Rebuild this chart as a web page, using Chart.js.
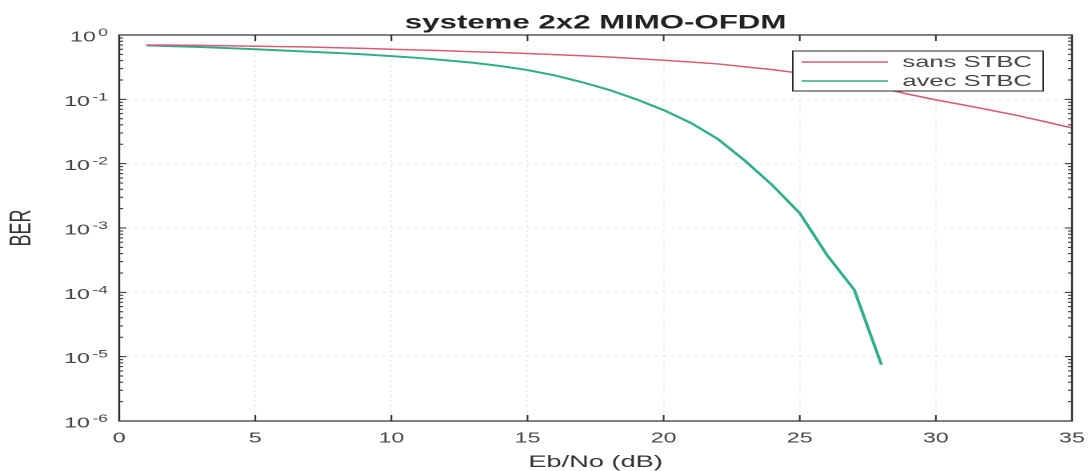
<!DOCTYPE html>
<html>
<head>
<meta charset="utf-8">
<title>systeme 2x2 MIMO-OFDM</title>
<script src="https://cdn.jsdelivr.net/npm/chart.js@4/dist/chart.umd.min.js"></script>
<style>
  html, body { margin: 0; padding: 0; background: #fff; overflow: hidden; }
  /* the figure is laid out narrow and widened, like the exported plot */
  #stage { width: 682px; height: 471px; transform: scaleX(1.6); transform-origin: 0 0; }
</style>
</head>
<body>
<div id="stage"><canvas id="ber" width="682" height="471"></canvas></div>
<script>
"use strict";

// Eb/No in dB
const EBNO_DB = [1, 2, 3, 4, 5, 6, 7, 8, 9, 10, 11, 12, 13, 14, 15, 16, 17, 18,
                 19, 20, 21, 22, 23, 24, 25, 26, 27, 28, 29, 30, 31, 32, 33, 34, 35];

// BER without STBC (1..35 dB)
const BER_SANS_STBC = [0.70, 0.695, 0.69, 0.68, 0.67, 0.66, 0.65, 0.635, 0.62, 0.60,
                       0.585, 0.57, 0.55, 0.535, 0.515, 0.495, 0.475, 0.455, 0.43, 0.405,
                       0.38, 0.355, 0.32, 0.29, 0.255, 0.22, 0.185, 0.15, 0.12, 0.098,
                       0.082, 0.068, 0.056, 0.045, 0.036];

// BER with Alamouti STBC (1..28 dB, no errors counted after that)
const BER_AVEC_STBC = [0.69, 0.67, 0.65, 0.625, 0.60, 0.575, 0.55, 0.525, 0.50, 0.47,
                       0.44, 0.405, 0.37, 0.33, 0.285, 0.235, 0.185, 0.14, 0.10, 0.068,
                       0.043, 0.024, 0.011, 0.0046, 0.0017, 3.8e-4, 1.1e-4, 7.5e-6];

const X_TICKS = [0, 5, 10, 15, 20, 25, 30, 35];
const Y_DECADES = [1, 1e-1, 1e-2, 1e-3, 1e-4, 1e-5, 1e-6];

const RED = "#d65c76";
const GREEN = "#30ad8b";
const FRAME = "#2b2b2b";
const LABEL = "#444";
const GRID = "rgba(120, 120, 120, 0.14)";
const FONT = "'Liberation Sans', Arial, sans-serif";

function points(xs, ys) {
  return ys.map((y, i) => ({ x: xs[i], y }));
}

// box, inward ticks (with log minor ticks) and superscript decade labels
const axesFrame = {
  id: "axesFrame",
  afterDraw(chart) {
    const { ctx, chartArea: a, scales: { x, y } } = chart;
    ctx.save();
    ctx.strokeStyle = FRAME;
    ctx.lineWidth = 1.2;
    ctx.strokeRect(a.left, a.top, a.right - a.left, a.bottom - a.top);

    ctx.beginPath();
    X_TICKS.forEach(v => {
      const px = x.getPixelForValue(v);
      ctx.moveTo(px, a.bottom); ctx.lineTo(px, a.bottom - 6);
      ctx.moveTo(px, a.top);    ctx.lineTo(px, a.top + 6);
    });
    Y_DECADES.forEach(v => {
      const py = y.getPixelForValue(v);
      ctx.moveTo(a.left, py);  ctx.lineTo(a.left + 4.5, py);
      ctx.moveTo(a.right, py); ctx.lineTo(a.right - 4.5, py);
      if (v < 1) {
        for (let m = 2; m <= 9; m++) {
          const pm = y.getPixelForValue(v * m);
          ctx.moveTo(a.left, pm);  ctx.lineTo(a.left + 2.5, pm);
          ctx.moveTo(a.right, pm); ctx.lineTo(a.right - 2.5, pm);
        }
      }
    });
    ctx.lineWidth = 1;
    ctx.stroke();

    // 10^n labels
    ctx.fillStyle = LABEL;
    Y_DECADES.forEach(v => {
      const py = y.getPixelForValue(v);
      const exp = String(Math.round(Math.log10(v)));
      const xr = a.left - 7;
      ctx.font = "11px " + FONT;
      const ew = ctx.measureText(exp).width;
      ctx.textAlign = "left";
      ctx.textBaseline = "alphabetic";
      ctx.fillText(exp, xr - ew, py + 1);
      ctx.font = "14.5px " + FONT;
      ctx.textAlign = "right";
      ctx.textBaseline = "middle";
      ctx.fillText("10", xr - ew - 1.5, py + 2.5);
    });
    ctx.restore();
  }
};

// boxed legend in the upper right of the axes
const boxLegend = {
  id: "boxLegend",
  afterDraw(chart) {
    const { ctx, chartArea: a } = chart;
    const sets = chart.data.datasets;
    const w = 156.5, rowH = 19;
    const right = a.right - 18, top = a.top + 16;
    const left = right - w, h = 40;
    ctx.save();
    ctx.fillStyle = "#fff";
    ctx.fillRect(left, top, w, h);
    ctx.strokeStyle = FRAME;
    ctx.lineWidth = 1;
    ctx.strokeRect(left, top, w, h);
    ctx.font = "16px " + FONT;
    ctx.textBaseline = "middle";
    ctx.textAlign = "left";
    sets.forEach((ds, i) => {
      const cy = top + 11 + i * rowH;
      ctx.strokeStyle = ds.borderColor;
      ctx.lineWidth = 1.5;
      ctx.beginPath();
      ctx.moveTo(left + 5.5, cy);
      ctx.lineTo(left + 59.5, cy);
      ctx.stroke();
      ctx.fillStyle = LABEL;
      ctx.fillText(ds.label, left + 68.5, cy + 0.5);
    });
    ctx.restore();
  }
};

new Chart(document.getElementById("ber"), {
  type: "line",
  data: {
    datasets: [
      {
        label: "sans STBC",
        data: points(EBNO_DB, BER_SANS_STBC),
        borderColor: RED, backgroundColor: RED,
        borderWidth: 1.5, pointRadius: 0, tension: 0,
      },
      {
        label: "avec STBC",
        data: points(EBNO_DB, BER_AVEC_STBC),
        borderColor: GREEN, backgroundColor: GREEN,
        borderWidth: 2, pointRadius: 0, tension: 0,
      },
    ],
  },
  options: {
    responsive: false,
    animation: false,
    devicePixelRatio: 2,
    layout: { padding: { top: 0, right: 12, bottom: 0, left: 0 } },
    scales: {
      x: {
        type: "linear",
        min: 0, max: 35,
        afterBuildTicks: s => { s.ticks = X_TICKS.map(value => ({ value })); },
        afterFit: s => { s.height = 50; s.paddingLeft = 0; s.paddingRight = 0; },
        ticks: { color: LABEL, font: { family: FONT, size: 14.5 }, padding: 9, maxRotation: 0 },
        grid: { color: GRID, drawTicks: false },
        border: { display: false, dash: [2, 3] },
        title: {
          display: true, text: "Eb/No (dB)", color: "#333",
          font: { family: FONT, size: 17, lineHeight: 1 },
          padding: { top: 0, bottom: 0 },
        },
      },
      y: {
        type: "logarithmic",
        min: 1e-6, max: 1,
        afterBuildTicks: s => { s.ticks = Y_DECADES.map(value => ({ value })); },
        afterFit: s => { s.width = 74.5; },
        ticks: { display: false },
        grid: { color: GRID, drawTicks: false },
        border: { display: false, dash: [2, 3] },
        title: {
          display: true, text: "BER", color: "#333",
          font: { family: FONT, size: 18, lineHeight: 1 },
          padding: { top: 5, bottom: 0 },
        },
      },
    },
    plugins: {
      legend: { display: false },
      tooltip: { enabled: false },
      title: {
        display: true,
        fullSize: false,
        text: "systeme 2x2 MIMO-OFDM",
        color: "#222",
        font: { family: FONT, size: 19.5, weight: "bold", lineHeight: 1.2 },
        padding: { top: 11.5, bottom: 0.1 },
      },
    },
  },
  plugins: [axesFrame, boxLegend],
});
</script>
</body>
</html>
